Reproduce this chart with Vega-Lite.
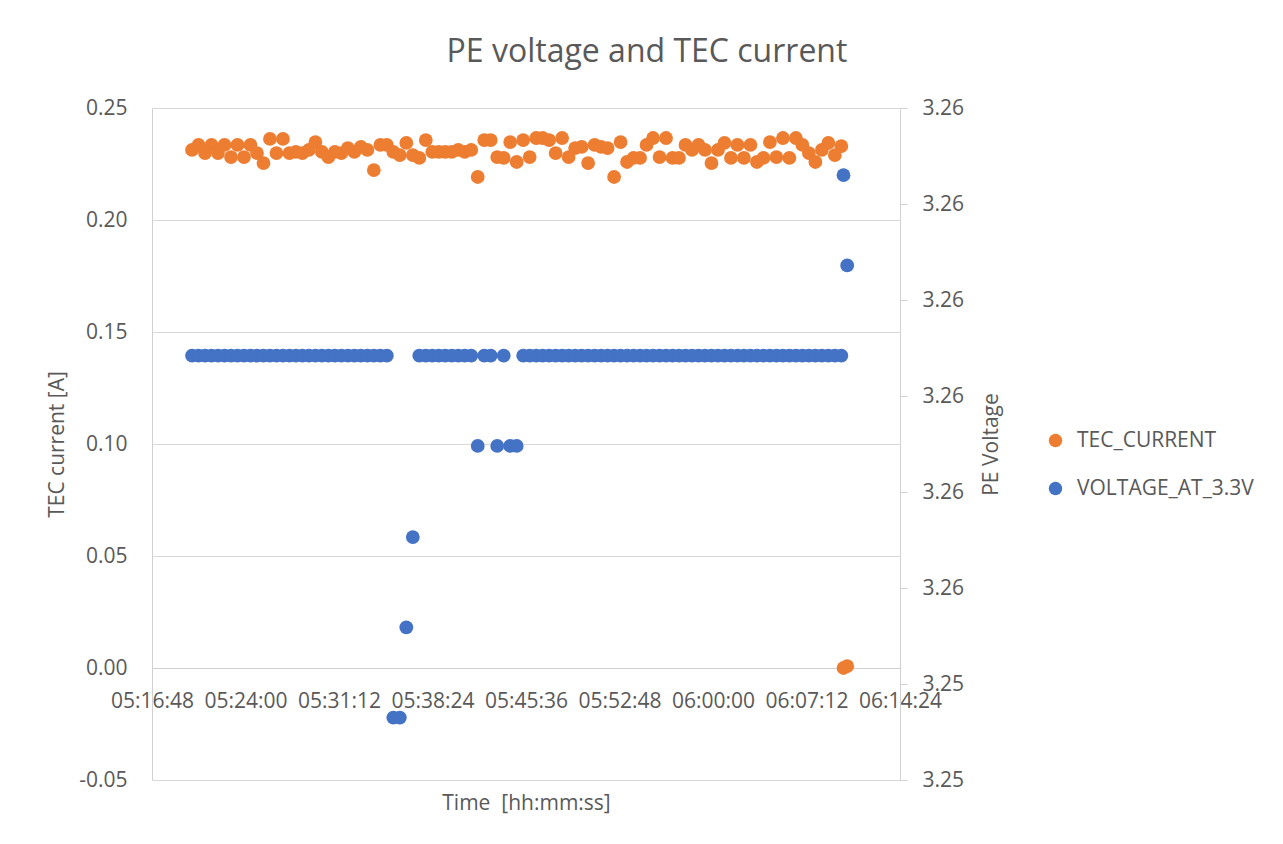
{
  "$schema": "https://vega.github.io/schema/vega-lite/v6.json",
  "width": 748,
  "height": 672,
  "autosize": {"type": "none"},
  "padding": {"left": 152, "top": 108, "right": 383, "bottom": 64},
  "background": "white",
  "title": {"text": "PE voltage and TEC current", "fontSize": 32, "font": "Open Sans", "fontWeight": "normal", "color": "#595959", "anchor": "middle", "frame": "group", "dx": 121, "offset": 28},
  "config": {
    "view": {"stroke": null},
    "font": "Open Sans",
    "axis": {"labelFont": "Open Sans", "titleFont": "Open Sans", "labelColor": "#595959", "titleColor": "#595959", "labelFontSize": 21, "titleFontSize": 21, "titleFontWeight": "normal", "domainColor": "#d0d0d0", "gridColor": "#d9d9d9", "tickColor": "#d0d0d0"},
    "legend": {"labelFont": "Open Sans", "labelColor": "#595959", "labelFontSize": 21}
  },
  "data": {"values": [
    {"t":19193,"tec":0.2313,"volt":3.25842},{"t":19223,"tec":0.2335,"volt":3.25842},{"t":19253,"tec":0.2299,"volt":3.25842},{"t":19283,"tec":0.2335,"volt":3.25842},{"t":19313,"tec":0.2299,"volt":3.25842},
    {"t":19343,"tec":0.2335,"volt":3.25842},{"t":19373,"tec":0.2281,"volt":3.25842},{"t":19403,"tec":0.2335,"volt":3.25842},{"t":19433,"tec":0.2281,"volt":3.25842},{"t":19463,"tec":0.2335,"volt":3.25842},
    {"t":19493,"tec":0.2299,"volt":3.25842},{"t":19523,"tec":0.2254,"volt":3.25842},{"t":19553,"tec":0.2362,"volt":3.25842},{"t":19583,"tec":0.2299,"volt":3.25842},{"t":19613,"tec":0.2362,"volt":3.25842},
    {"t":19643,"tec":0.2299,"volt":3.25842},{"t":19673,"tec":0.2304,"volt":3.25842},{"t":19703,"tec":0.2299,"volt":3.25842},{"t":19733,"tec":0.2313,"volt":3.25842},{"t":19763,"tec":0.2348,"volt":3.25842},
    {"t":19793,"tec":0.2304,"volt":3.25842},{"t":19823,"tec":0.2281,"volt":3.25842},{"t":19853,"tec":0.2304,"volt":3.25842},{"t":19883,"tec":0.2299,"volt":3.25842},{"t":19913,"tec":0.2321,"volt":3.25842},
    {"t":19943,"tec":0.2304,"volt":3.25842},{"t":19973,"tec":0.2326,"volt":3.25842},{"t":20003,"tec":0.2313,"volt":3.25842},{"t":20033,"tec":0.2223,"volt":3.25842},{"t":20063,"tec":0.2335,"volt":3.25842},
    {"t":20093,"tec":0.2335,"volt":3.25842},{"t":20123,"tec":0.2304,"volt":3.25465},{"t":20153,"tec":0.2290,"volt":3.25465},{"t":20183,"tec":0.2344,"volt":3.25559},{"t":20213,"tec":0.2290,"volt":3.25653},
    {"t":20243,"tec":0.2277,"volt":3.25842},{"t":20273,"tec":0.2357,"volt":3.25842},{"t":20303,"tec":0.2304,"volt":3.25842},{"t":20333,"tec":0.2304,"volt":3.25842},{"t":20363,"tec":0.2304,"volt":3.25842},
    {"t":20393,"tec":0.2304,"volt":3.25842},{"t":20423,"tec":0.2313,"volt":3.25842},{"t":20453,"tec":0.2304,"volt":3.25842},{"t":20483,"tec":0.2313,"volt":3.25842},{"t":20513,"tec":0.2192,"volt":3.25748},
    {"t":20543,"tec":0.2357,"volt":3.25842},{"t":20573,"tec":0.2357,"volt":3.25842},{"t":20603,"tec":0.2281,"volt":3.25748},{"t":20633,"tec":0.2277,"volt":3.25842},{"t":20663,"tec":0.2348,"volt":3.25748},
    {"t":20693,"tec":0.2259,"volt":3.25748},{"t":20723,"tec":0.2357,"volt":3.25842},{"t":20753,"tec":0.2281,"volt":3.25842},{"t":20783,"tec":0.2366,"volt":3.25842},{"t":20813,"tec":0.2366,"volt":3.25842},
    {"t":20843,"tec":0.2357,"volt":3.25842},{"t":20873,"tec":0.2299,"volt":3.25842},{"t":20903,"tec":0.2366,"volt":3.25842},{"t":20933,"tec":0.2281,"volt":3.25842},{"t":20963,"tec":0.2321,"volt":3.25842},
    {"t":20993,"tec":0.2326,"volt":3.25842},{"t":21023,"tec":0.2254,"volt":3.25842},{"t":21053,"tec":0.2335,"volt":3.25842},{"t":21083,"tec":0.2326,"volt":3.25842},{"t":21113,"tec":0.2321,"volt":3.25842},
    {"t":21143,"tec":0.2192,"volt":3.25842},{"t":21173,"tec":0.2348,"volt":3.25842},{"t":21203,"tec":0.2259,"volt":3.25842},{"t":21233,"tec":0.2277,"volt":3.25842},{"t":21263,"tec":0.2277,"volt":3.25842},
    {"t":21293,"tec":0.2335,"volt":3.25842},{"t":21323,"tec":0.2366,"volt":3.25842},{"t":21353,"tec":0.2281,"volt":3.25842},{"t":21383,"tec":0.2366,"volt":3.25842},{"t":21413,"tec":0.2277,"volt":3.25842},
    {"t":21443,"tec":0.2277,"volt":3.25842},{"t":21473,"tec":0.2335,"volt":3.25842},{"t":21503,"tec":0.2313,"volt":3.25842},{"t":21533,"tec":0.2335,"volt":3.25842},{"t":21563,"tec":0.2313,"volt":3.25842},
    {"t":21593,"tec":0.2254,"volt":3.25842},{"t":21623,"tec":0.2313,"volt":3.25842},{"t":21653,"tec":0.2344,"volt":3.25842},{"t":21683,"tec":0.2277,"volt":3.25842},{"t":21713,"tec":0.2335,"volt":3.25842},
    {"t":21743,"tec":0.2277,"volt":3.25842},{"t":21773,"tec":0.2335,"volt":3.25842},{"t":21803,"tec":0.2259,"volt":3.25842},{"t":21833,"tec":0.2277,"volt":3.25842},{"t":21863,"tec":0.2348,"volt":3.25842},
    {"t":21893,"tec":0.2281,"volt":3.25842},{"t":21923,"tec":0.2366,"volt":3.25842},{"t":21953,"tec":0.2277,"volt":3.25842},{"t":21983,"tec":0.2366,"volt":3.25842},{"t":22013,"tec":0.2335,"volt":3.25842},
    {"t":22043,"tec":0.2299,"volt":3.25842},{"t":22073,"tec":0.2259,"volt":3.25842},{"t":22103,"tec":0.2313,"volt":3.25842},{"t":22133,"tec":0.2344,"volt":3.25842},{"t":22163,"tec":0.2290,"volt":3.25842},
    {"t":22193,"tec":0.2330,"volt":3.25842},{"t":22203,"tec":0.0,"volt":3.26030},{"t":22220,"tec":0.0008,"volt":3.25936}
  ]},
  "layer": [
    {
      "mark": {"type": "point", "filled": true, "size": 190, "opacity": 1},
      "encoding": {
        "x": {"field": "t", "type": "quantitative",
          "scale": {"domain": [19008, 22464], "nice": false, "zero": false},
          "axis": {"values": [19008, 19440, 19872, 20304, 20736, 21168, 21600, 22032, 22464],
            "labelExpr": "utcFormat(datum.value * 1000, '%H:%M:%S')",
            "offset": -112, "ticks": false, "tickSize": 0, "labelPadding": 22, "grid": false,
            "labelOverlap": false, "labelFlush": false, "labelBound": false,
            "title": "Time \u00a0[hh:mm:ss]", "titleBaseline": "middle", "titleY": 135}},
        "y": {"field": "tec", "type": "quantitative",
          "scale": {"domain": [-0.05, 0.25], "nice": false, "zero": false},
          "axis": {"values": [-0.05, 0, 0.05, 0.1, 0.15, 0.2, 0.25],
            "labelExpr": "datum.value < 0 ? '-' + format(-datum.value, '.2f') : format(datum.value, '.2f')",
            "ticks": false, "tickSize": 0, "labelPadding": 25, "grid": true,
            "title": "TEC current [A]", "titlePadding": 11}},
        "color": {"datum": "TEC_CURRENT", "type": "nominal",
          "scale": {"domain": ["TEC_CURRENT", "VOLTAGE_AT_3.3V"], "range": ["#ED7D31", "#4472C4"]},
          "legend": {"title": null, "orient": "none", "legendX": 893, "legendY": 322,
            "symbolType": "circle", "symbolSize": 180, "symbolStrokeWidth": 0, "labelOffset": 11, "rowPadding": 26, "labelLimit": 0}}
      }
    },
    {
      "mark": {"type": "point", "filled": true, "size": 190, "opacity": 1},
      "encoding": {
        "x": {"field": "t", "type": "quantitative"},
        "y": {"field": "volt", "type": "quantitative",
          "scale": {"domain": [3.254, 3.261], "nice": false, "zero": false},
          "axis": {"orient": "right", "values": [3.254, 3.255, 3.256, 3.257, 3.258, 3.259, 3.26, 3.261], "format": ".2f",
            "ticks": true, "tickSize": 7, "labelPadding": 15, "grid": false,
            "title": "PE Voltage", "titleAngle": 270, "titleBaseline": "top", "titlePadding": 17}},
        "color": {"datum": "VOLTAGE_AT_3.3V", "type": "nominal"}
      }
    }
  ],
  "resolve": {"scale": {"y": "independent"}}
}
